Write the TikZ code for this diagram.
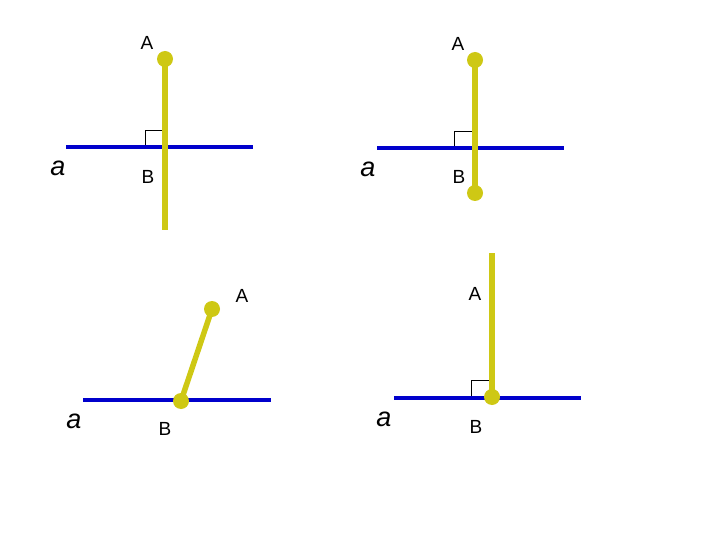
\documentclass[tikz,border=0pt]{standalone}
\usepackage{fontspec}
\setmainfont{Liberation Sans}
\definecolor{lineblue}{RGB}{0,0,204}
\definecolor{segyellow}{RGB}{206,200,20}
\tikzset{
  plane/.style={draw=lineblue,line width=4pt},
  seg/.style={draw=segyellow,line width=5.5pt},
  pt/.style={circle,fill=segyellow,inner sep=0pt,minimum size=16pt},
  rangle/.style={draw=black,line width=0.8pt},
  lbl/.style={font=\fontsize{19}{19}\selectfont,inner sep=0pt},
  alab/.style={font=\fontsize{27}{27}\selectfont\itshape,inner sep=0pt}
}
\begin{document}
\begin{tikzpicture}[x=1pt,y=-1pt]
\useasboundingbox (0,0) rectangle (720,540);
% panel 1
\coordinate (l1a) at (66,147); \coordinate (l1b) at (253,147);
\coordinate (A1) at (165,59); \coordinate (B1) at (165,147); \coordinate (E1) at (165,230);
\draw[rangle] (145,147) -- (145,130) -- (165,130);
\draw[plane] (l1a) -- (l1b);
\draw[seg] (A1) -- (E1);
\node[pt] (dA1) at (A1) {};
\node[lbl] (tA1) at (147,43) {A};
\node[lbl] (tB1) at (148,177) {B};
\node[alab] (ta1) at (58,168) {a};
% panel 2
\coordinate (l2a) at (377,148); \coordinate (l2b) at (564,148);
\coordinate (A2) at (475,60); \coordinate (B2) at (475,193);
\draw[rangle] (454,148) -- (454,131) -- (475,131);
\draw[plane] (l2a) -- (l2b);
\draw[seg] (A2) -- (B2);
\node[pt] (dA2) at (A2) {};
\node[pt] (dB2) at (B2) {};
\node[lbl] (tA2) at (458,44) {A};
\node[lbl] (tB2) at (459,177) {B};
\node[alab] (ta2) at (368,169) {a};
% panel 3
\coordinate (l3a) at (83,400); \coordinate (l3b) at (271,400);
\coordinate (A3) at (212,309); \coordinate (B3) at (181,401);
\draw[plane] (l3a) -- (l3b);
\draw[seg] (A3) -- (B3);
\node[pt] (dA3) at (A3) {};
\node[pt] (dB3) at (B3) {};
\node[lbl] (tA3) at (242,296) {A};
\node[lbl] (tB3) at (165,429) {B};
\node[alab] (ta3) at (74,421) {a};
% panel 4
\coordinate (l4a) at (394,398); \coordinate (l4b) at (581,398);
\coordinate (T4) at (492,253); \coordinate (B4) at (492,397);
\draw[rangle] (471,398) -- (471,380) -- (492,380);
\draw[plane] (l4a) -- (l4b);
\draw[seg] (T4) -- (B4);
\node[pt] (dB4) at (B4) {};
\node[lbl] (tA4) at (475,294) {A};
\node[lbl] (tB4) at (476,427) {B};
\node[alab] (ta4) at (384,419) {a};
\end{tikzpicture}
\end{document}
